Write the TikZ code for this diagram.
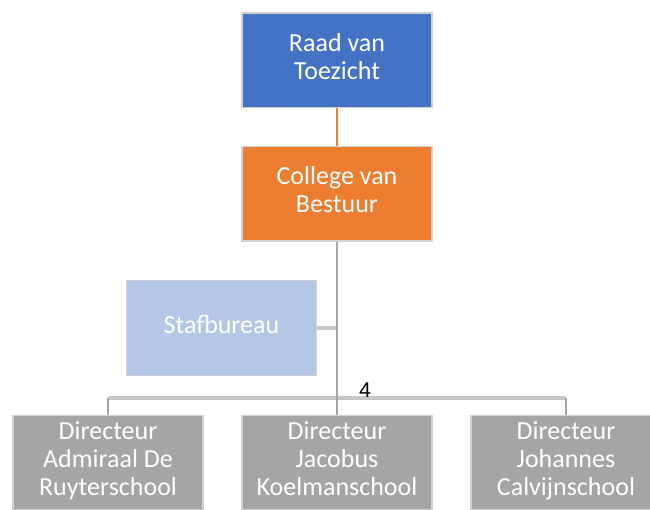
\documentclass[tikz,border=0pt]{standalone}
\usepackage{fontspec}
\setmainfont{Carlito}
\newfontfamily\numfont{Liberation Sans}
\definecolor{rvtblue}{HTML}{4472C4}
\definecolor{cvborange}{HTML}{ED7D31}
\definecolor{staflight}{HTML}{B4C7E7}
\definecolor{dirgray}{HTML}{A5A5A5}
\tikzset{
  orgbox/.style={draw=black!18, line width=1pt, minimum width=142.5pt, minimum height=71pt,
    text=white, align=center, font=\fontsize{19.5}{21}\selectfont, inner sep=0pt,
    execute at begin node=\strut, execute at end node=\strut},
  thinline/.style={draw=dirgray, line width=1.5pt},
  barline/.style={draw=black!22, line width=3pt}
}
\begin{document}
\begin{tikzpicture}[x=0.75pt, y=-0.75pt]
  \useasboundingbox (0,0) rectangle (650,510);
  % boxes
  \node[orgbox, fill=rvtblue] (rvt) at (337,60.5) {Raad van\\Toezicht};
  \node[orgbox, fill=cvborange] (cvb) at (337,193.5) {College van\\Bestuur};
  \node[orgbox, fill=staflight] (staf) at (221.5,328) {Stafbureau};
  \node[orgbox, fill=dirgray] (dira) at (108,462.5) {Directeur\\Admiraal De\\Ruyterschool};
  \node[orgbox, fill=dirgray] (dirj) at (337,462.5) {Directeur\\Jacobus\\Koelmanschool};
  \node[orgbox, fill=dirgray] (dirc) at (566,462.5) {Directeur\\Johannes\\Calvijnschool};
  \coordinate (bar) at (337,398);
  \coordinate (barl) at (108,398);
  \coordinate (barr) at (566,398);
  \coordinate (stafjoin) at (337,328);
  % lines
  \draw[draw=cvborange, line width=1.5pt] (rvt.south) -- (cvb.north);
  \draw[barline] (barl) -- (barr);
  \draw[barline] (staf.east) -- (stafjoin);
  \draw[thinline] (cvb.south) -- (dirj.north);
  \draw[thinline] (barl) -- (dira.north);
  \draw[thinline] (barr) -- (dirc.north);
  \node[font=\numfont\fontsize{16}{16}\selectfont] (num) at (365,390) {4};
\end{tikzpicture}
\end{document}
